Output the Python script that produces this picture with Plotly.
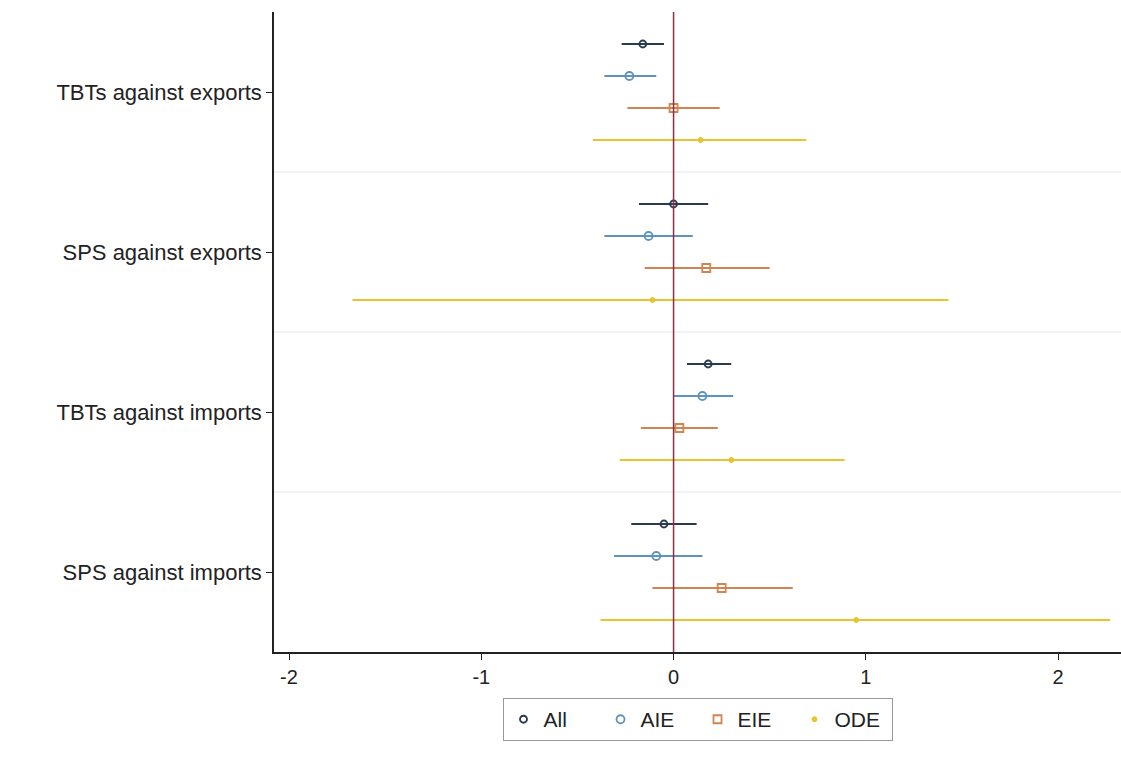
import plotly.graph_objects as go

categories = ["TBTs against exports", "SPS against exports", "TBTs against imports", "SPS against imports"]
series = ["All", "AIE", "EIE", "ODE"]

# point estimates
est_all = [-0.16, 0.00, 0.18, -0.05]
est_aie = [-0.23, -0.13, 0.15, -0.09]
est_eie = [0.00, 0.17, 0.03, 0.25]
est_ode = [0.14, -0.11, 0.30, 0.95]

# lower bounds
lo_all = [-0.27, -0.18, 0.07, -0.22]
lo_aie = [-0.36, -0.36, 0.00, -0.31]
lo_eie = [-0.24, -0.15, -0.17, -0.11]
lo_ode = [-0.42, -1.67, -0.28, -0.38]

# upper bounds
hi_all = [-0.05, 0.18, 0.30, 0.12]
hi_aie = [-0.09, 0.10, 0.31, 0.15]
hi_eie = [0.24, 0.50, 0.23, 0.62]
hi_ode = [0.69, 1.43, 0.89, 2.27]

x_ticks = [-2, -1, 0, 1, 2]

ests = [est_all, est_aie, est_eie, est_ode]
los = [lo_all, lo_aie, lo_eie, lo_ode]
his = [hi_all, hi_aie, hi_eie, hi_ode]
colors = ["#2a3b4f", "#5e93c0", "#cf8552", "#e8c42e"]
symbols = ["circle-open", "circle-open", "square-open", "circle"]
sizes = [7, 8, 8, 4]
offsets = [-0.3, -0.1, 0.1, 0.3]

fig = go.Figure()
for s, e, lo, hi, c, sym, sz, off in zip(series, ests, los, his, colors, symbols, sizes, offsets):
    ys = [i + off for i in range(len(categories))]
    fig.add_trace(go.Scatter(
        x=e, y=ys, mode="markers", name=s,
        marker=dict(symbol=sym, size=sz, color=c, line=dict(color=c, width=1.8)),
        error_x=dict(type="data", symmetric=False,
                     array=[h - v for h, v in zip(hi, e)],
                     arrayminus=[v - l for v, l in zip(e, lo)],
                     color=c, thickness=1.8, width=0),
    ))

# separators between groups
for k in range(1, len(categories)):
    fig.add_shape(type="line", xref="paper", yref="y", x0=0, x1=1, y0=k - 0.5, y1=k - 0.5,
                  line=dict(color="#e6e9ee", width=1), layer="below")
# zero reference line
fig.add_shape(type="line", xref="x", yref="paper", x0=0, x1=0, y0=0, y1=1,
              line=dict(color="#8c2f46", width=1.5))

fig.update_layout(
    width=1121, height=766,
    margin=dict(l=274, r=0, t=12, b=114),
    paper_bgcolor="white", plot_bgcolor="white",
    font=dict(family="Liberation Sans, Arial, sans-serif", size=20, color="#222222"),
    showlegend=True,
    legend=dict(orientation="h", x=0.5, xanchor="center", y=-0.072, yanchor="top",
                bordercolor="#9a9a9a", borderwidth=1, font=dict(size=21),
                itemwidth=30, entrywidth=52, traceorder="normal"),
    xaxis=dict(range=[-2.078, 2.327], tickvals=x_ticks, ticktext=[str(t) for t in x_ticks],
               showgrid=False, zeroline=False, showline=True, linecolor="#222222", linewidth=1.5,
               ticks="outside", ticklen=6, tickcolor="#222222", tickfont=dict(size=20)),
    yaxis=dict(range=[len(categories) - 0.5, -0.5], tickvals=list(range(len(categories))),
               ticktext=categories, showgrid=False, zeroline=False, showline=True,
               linecolor="#222222", linewidth=1.5, ticks="outside", ticklen=6,
               tickcolor="#222222", tickfont=dict(size=22)),
)

fig.write_html("out.html", config={"displayModeBar": False},
               post_script="document.body.style.margin='0';document.body.style.overflow='hidden';")
